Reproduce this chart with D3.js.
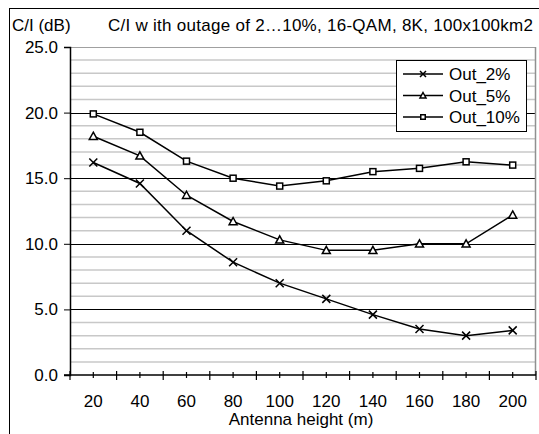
<!DOCTYPE html>
<html>
<head>
<meta charset="utf-8">
<script src="https://cdn.jsdelivr.net/npm/d3@7"></script>
<style>
  body { margin: 0; background: #fff; }
  text { font-family: "Liberation Sans", Arial, sans-serif; fill: #000; }
</style>
</head>
<body>
<svg id="chart" width="539" height="434"></svg>
<script>
// Data
const heights = [20, 40, 60, 80, 100, 120, 140, 160, 180, 200];
const out2 = [16.2, 14.6, 11.0, 8.6, 7.0, 5.8, 4.6, 3.5, 3.0, 3.4];
const out5 = [18.2, 16.7, 13.7, 11.7, 10.3, 9.5, 9.5, 10.0, 10.0, 12.2];
const out10 = [19.9, 18.5, 16.3, 15.0, 14.4, 14.8, 15.5, 15.75, 16.25, 16.0];
const seriesNames = ['Out_2%', 'Out_5%', 'Out_10%'];
const seriesMarkers = ['cross', 'triangle', 'square'];
const yTicks = [0, 5, 10, 15, 20, 25];

const svg = d3.select('#chart');
const margin = { left: 70, top: 47, right: 3, bottom: 59 };
const width = 539 - margin.left - margin.right;
const height = 434 - margin.top - margin.bottom;
const fs = '17px';

// outer frame
svg.append('rect')
    .attr('x', 9.5).attr('y', 8.5)
    .attr('width', 560).attr('height', 460)
    .attr('fill', 'none').attr('stroke', '#000').attr('stroke-width', 1);

const g = svg.append('g').attr('transform', `translate(${margin.left},${margin.top})`);

const x = d3.scaleBand().domain(heights).range([0, width]);
const y = d3.scaleLinear().domain([0, 25]).range([height, 0]);

// minor gridlines every 1 dB
g.selectAll('.minor')
    .data(d3.range(1, 25).filter(v => v % 5 !== 0))
    .enter().append('line')
    .attr('x1', 0).attr('x2', width)
    .attr('y1', d => y(d)).attr('y2', d => y(d))
    .attr('stroke', '#c8c8c8').attr('stroke-width', 1.5);

// major gridlines
g.selectAll('.major')
    .data(yTicks.filter(v => v > 0))
    .enter().append('line')
    .attr('x1', 0).attr('x2', width)
    .attr('y1', d => Math.round(y(d)) + 0.5).attr('y2', d => Math.round(y(d)) + 0.5)
    .attr('stroke', d => d === 25 ? '#a0a0a0' : '#000').attr('stroke-width', 1);

// right border of plot area
g.append('line')
    .attr('x1', width - 0.5).attr('x2', width - 0.5)
    .attr('y1', 0).attr('y2', height)
    .attr('stroke', '#909090').attr('stroke-width', 1.5);

// y axis
const yAxis = g.append('g')
    .call(d3.axisLeft(y).tickValues(yTicks).tickFormat(d3.format('.1f')).tickSize(6).tickPadding(6));
yAxis.select('.domain').attr('stroke-width', 1.5);
yAxis.selectAll('text').style('font-size', fs);

// x axis: crossing ticks at band edges and centers
const xg = g.append('g').attr('transform', `translate(0,${height})`);
xg.append('line').attr('x1', -6).attr('x2', width).attr('stroke', '#000').attr('stroke-width', 1.5);
const edges = heights.map(h => x(h)).concat([width]);
xg.selectAll('.edge').data(edges).enter().append('line')
    .attr('x1', d => d).attr('x2', d => d)
    .attr('y1', -4).attr('y2', 5)
    .attr('stroke', '#000').attr('stroke-width', 1.2);
xg.selectAll('.mid').data(heights).enter().append('line')
    .attr('x1', d => x(d) + x.bandwidth() / 2).attr('x2', d => x(d) + x.bandwidth() / 2)
    .attr('y1', -3).attr('y2', 3)
    .attr('stroke', '#000').attr('stroke-width', 1.2);
xg.selectAll('.lbl').data(heights).enter().append('text')
    .attr('x', d => x(d) + x.bandwidth() / 2)
    .attr('y', 32)
    .attr('text-anchor', 'middle')
    .style('font-size', fs)
    .text(d => d);

svg.append('text')
    .attr('x', 301).attr('y', 425)
    .attr('text-anchor', 'middle')
    .style('font-size', fs)
    .text('Antenna height (m)');

svg.append('text').attr('x', 12).attr('y', 31).style('font-size', fs).text('C/I (dB)');
svg.append('text').attr('x', 108).attr('y', 31).style('font-size', fs)
    .attr('textLength', 425).attr('lengthAdjust', 'spacing')
    .text('C/I w ith outage of 2\u202610%, 16-QAM, 8K, 100x100km2');

// markers
function drawMarker(sel, type, cx, cy, r) {
    if (type === 'cross') {
        sel.append('path')
            .attr('d', `M${cx - r},${cy - r}L${cx + r},${cy + r}M${cx - r},${cy + r}L${cx + r},${cy - r}`)
            .attr('stroke', '#000').attr('stroke-width', 1.5).attr('fill', 'none');
    } else if (type === 'triangle') {
        sel.append('path')
            .attr('d', `M${cx},${cy - r}L${cx + r},${cy + r * 0.8}L${cx - r},${cy + r * 0.8}Z`)
            .attr('stroke', '#000').attr('stroke-width', 1.5).attr('fill', '#fff');
    } else {
        const h = r * 0.75;
        sel.append('rect')
            .attr('x', cx - h).attr('y', cy - h).attr('width', 2 * h).attr('height', 2 * h)
            .attr('stroke', '#000').attr('stroke-width', 1.5).attr('fill', '#fff');
    }
}

const allSeries = [out2, out5, out10];
const line = d3.line()
    .x((d, i) => x(heights[i]) + x.bandwidth() / 2)
    .y(d => y(d));

allSeries.forEach((vals, s) => {
    g.append('path')
        .datum(vals)
        .attr('d', line)
        .attr('fill', 'none')
        .attr('stroke', '#000')
        .attr('stroke-width', 1.5);
    vals.forEach((v, i) => {
        drawMarker(g, seriesMarkers[s], x(heights[i]) + x.bandwidth() / 2, y(v), 4);
    });
});

// legend
const lg = svg.append('g');
lg.append('rect')
    .attr('x', 396.5).attr('y', 60.5).attr('width', 130).attr('height', 71)
    .attr('fill', '#fff').attr('stroke', '#000').attr('stroke-width', 1);
seriesNames.forEach((name, i) => {
    const ly = 74 + i * 21.5;
    lg.append('line').attr('x1', 403).attr('x2', 443).attr('y1', ly).attr('y2', ly)
        .attr('stroke', '#000').attr('stroke-width', 1.5);
    drawMarker(lg, seriesMarkers[i], 423, ly, 3);
    lg.append('text').attr('x', 449).attr('y', ly + 6).style('font-size', fs).text(name);
});
</script>
</body>
</html>
